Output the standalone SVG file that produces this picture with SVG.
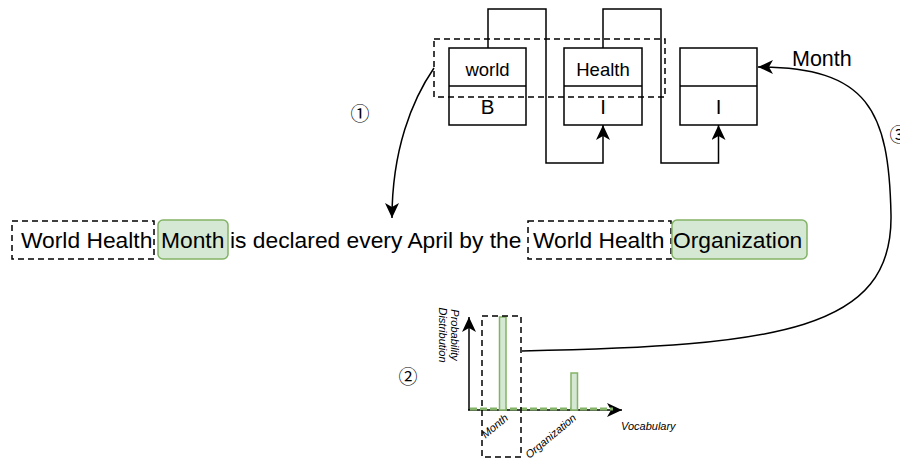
<svg xmlns="http://www.w3.org/2000/svg" width="900" height="463" viewBox="0 0 900 463">
<style>
text{font-family:"Liberation Sans",Arial,"Noto Sans CJK SC",sans-serif;fill:#000}
.box{fill:#fff;stroke:#000;stroke-width:1.5}
.dash{fill:none;stroke:#000;stroke-width:1.5;stroke-dasharray:6 4}
.green{fill:#d5e8d4;stroke:#82b366;stroke-width:1.5}
.edge{fill:none;stroke:#000;stroke-width:1.5}
.s{font-size:22.8px}
.b1{font-size:18.5px;text-anchor:middle}
.b2{font-size:20.5px;text-anchor:middle}
.num{font-size:19px;font-family:"Noto Sans CJK SC","Noto Sans CJK JP",sans-serif;text-anchor:middle}
.it{font-style:italic;font-size:11px}
</style>
<defs>
<marker id="arr" viewBox="0 0 15 14" refX="15" refY="7" markerWidth="15" markerHeight="14" markerUnits="userSpaceOnUse" orient="auto">
<path d="M0,0 L15,7 L0,14 L4,7 Z" fill="#000"/>
</marker>
</defs>

<g id="node-world">
<rect class="box" x="449" y="48" width="77" height="77"/>
<line class="edge" x1="449" y1="86" x2="526" y2="86"/>
<text class="b1" x="487.5" y="76">world</text>
<text class="b2" x="487.5" y="114">B</text>
</g>
<g id="node-health">
<rect class="box" x="564" y="48" width="78" height="77"/>
<line class="edge" x1="564" y1="86" x2="642" y2="86"/>
<text class="b1" x="603" y="76">Health</text>
<text class="b2" x="603" y="114">I</text>
</g>
<g id="node-month">
<rect class="box" x="680" y="48" width="77" height="77"/>
<line class="edge" x1="680" y1="86" x2="757" y2="86"/>
<text class="b2" x="718.5" y="114">I</text>
</g>
<g id="group-box">
<rect class="dash" x="434" y="39" width="231" height="58"/>
</g>
<text x="792" y="66" style="font-size:21.5px">Month</text>

<g id="sentence">
<rect class="dash" x="12" y="221" width="142" height="38"/>
<rect class="green" x="158" y="220" width="70" height="39" rx="5"/>
<rect class="dash" x="528" y="221" width="143" height="38"/>
<rect class="green" x="672" y="220" width="135" height="39" rx="5"/>
<text class="s" x="21" y="248">World Health</text>
<text class="s" x="161" y="248">Month</text>
<text class="s" x="230" y="248">is declared every April by the</text>
<text class="s" x="533" y="248">World Health</text>
<text class="s" x="673" y="248">Organization</text>
</g>

<g id="chart">
<line class="edge" x1="469" y1="410" x2="469" y2="317" stroke-width="2" marker-end="url(#arr)"/>
<line class="edge" x1="468" y1="410" x2="622" y2="410" stroke-width="2" marker-end="url(#arr)"/>
<line x1="470" y1="409" x2="613" y2="409" stroke="#82b366" stroke-width="3" stroke-dasharray="7 3"/>
<rect class="green" x="499.5" y="317" width="6.5" height="93"/>
<rect class="green" x="571" y="373" width="6.5" height="37"/>
<rect class="dash" x="482" y="316" width="39" height="141"/>
<text class="it" transform="translate(451,335) rotate(90)" text-anchor="middle">Probability</text>
<text class="it" transform="translate(439,335) rotate(90)" text-anchor="middle">Distribution</text>
<text class="it" x="621" y="430">Vocabulary</text>
<text class="it" transform="translate(509,419) rotate(-40)" text-anchor="end">Month</text>
<text class="it" transform="translate(577,419) rotate(-40)" text-anchor="end">Organization</text>
</g>

<g id="connectors">
<path class="edge" d="M488,48 V9 H546 V163 H603 V125" marker-end="url(#arr)"/>
<path class="edge" d="M603,48 V9 H661 V163 H718.5 V125" marker-end="url(#arr)"/>
<path class="edge" d="M434,68 C412,100 392,150 392,218" marker-end="url(#arr)"/>
<path class="edge" d="M522,351 C780,346 893,330 891,215 C889,110 868,67 758,67" marker-end="url(#arr)"/>
</g>

<text class="num" x="360" y="121">①</text>
<text class="num" x="408" y="384">②</text>
<text class="num" x="899" y="142">③</text>
</svg>
